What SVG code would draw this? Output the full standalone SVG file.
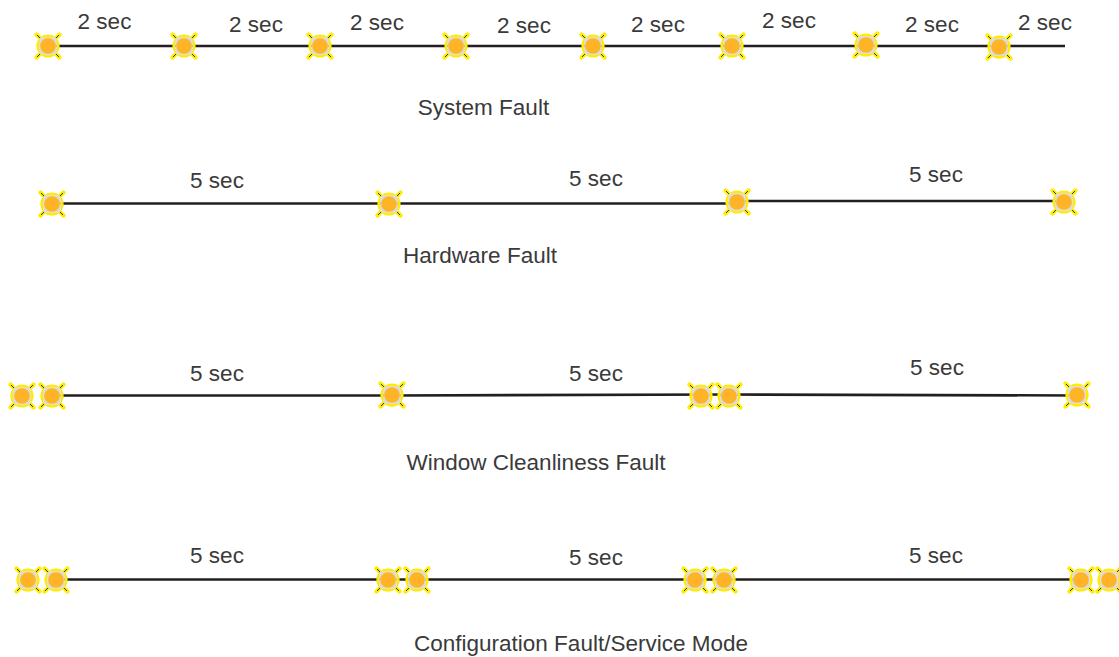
<svg xmlns="http://www.w3.org/2000/svg" xmlns:xlink="http://www.w3.org/1999/xlink" width="1119" height="657" viewBox="0 0 1119 657">
<style>
text{font-family:"Liberation Sans",Arial,sans-serif;font-size:22.5px;fill:#3a3a3a;text-anchor:middle}
.w{stroke:#231f20;stroke-width:2.6;fill:none}
.d{fill:#dcdcdc}
.g{stroke:#ffec00;stroke-width:2.8;fill:none}
.c{stroke:#ffec00;stroke-width:4.4;stroke-linecap:round;fill:none}
.k{stroke:#222;stroke-width:.9;fill:none}
.r{fill:#ffb428}
</style>
<defs>
<g id="led">
<circle class="g" r="10.200"/>
<rect class="d" x="-8.800" y="-8.800" width="17.600" height="17.600"/>
<path class="c" d="M-11.500-11.500L-9-9M11.500-11.500L9-9M-11.500 11.500L-9 9M11.500 11.500L9 9"/>
<path class="k" d="M-11-11L-8-8M11-11L8-8M-11 11L-8 8M11 11L8 8"/>
<circle class="r" r="7.800"/>
</g>
</defs>
<g id="connectors">
<path class="w" d="M48 46H1065"/>
<path class="w" d="M52 203.500H737L747 201H1064"/>
<path class="w" d="M52 395.500H392L729 394.500L1077 395.500"/>
<path class="w" d="M56 579.500H1081"/>
</g>
<g id="system-fault">
<use href="#led" x="48" y="46"/><use href="#led" x="184" y="46"/><use href="#led" x="320" y="46"/><use href="#led" x="456" y="46"/><use href="#led" x="593" y="46"/><use href="#led" x="732" y="46"/><use href="#led" x="866" y="45"/><use href="#led" x="999" y="47"/>
<text x="104.500" y="29">2 sec</text><text x="256" y="32">2 sec</text><text x="377" y="30">2 sec</text><text x="524" y="33">2 sec</text><text x="658" y="32">2 sec</text><text x="789" y="28">2 sec</text><text x="932" y="32">2 sec</text><text x="1045" y="30">2 sec</text>
<text x="483.500" y="115">System Fault</text>
</g>
<g id="hardware-fault">
<use href="#led" x="52" y="204"/><use href="#led" x="389" y="204"/><use href="#led" x="737" y="202"/><use href="#led" x="1064" y="202"/>
<text x="217" y="188">5 sec</text><text x="596" y="186">5 sec</text><text x="936" y="182">5 sec</text>
<text x="480" y="263">Hardware Fault</text>
</g>
<g id="window-cleanliness-fault">
<use href="#led" x="22" y="396"/><use href="#led" x="52" y="396"/><use href="#led" x="392" y="395"/><use href="#led" x="701" y="396"/><use href="#led" x="729" y="396"/><use href="#led" x="1077" y="395"/>
<text x="217" y="381">5 sec</text><text x="596" y="381">5 sec</text><text x="937" y="375">5 sec</text>
<text x="536" y="470">Window Cleanliness Fault</text>
</g>
<g id="configuration-fault">
<use href="#led" x="28" y="580"/><use href="#led" x="56" y="580"/><use href="#led" x="388" y="580"/><use href="#led" x="417" y="580"/><use href="#led" x="695" y="580"/><use href="#led" x="724" y="580"/><use href="#led" x="1081" y="580"/><use href="#led" x="1109" y="580"/>
<text x="217" y="563">5 sec</text><text x="596" y="565">5 sec</text><text x="936" y="563">5 sec</text>
<text x="581" y="651">Configuration Fault/Service Mode</text>
</g>
</svg>
